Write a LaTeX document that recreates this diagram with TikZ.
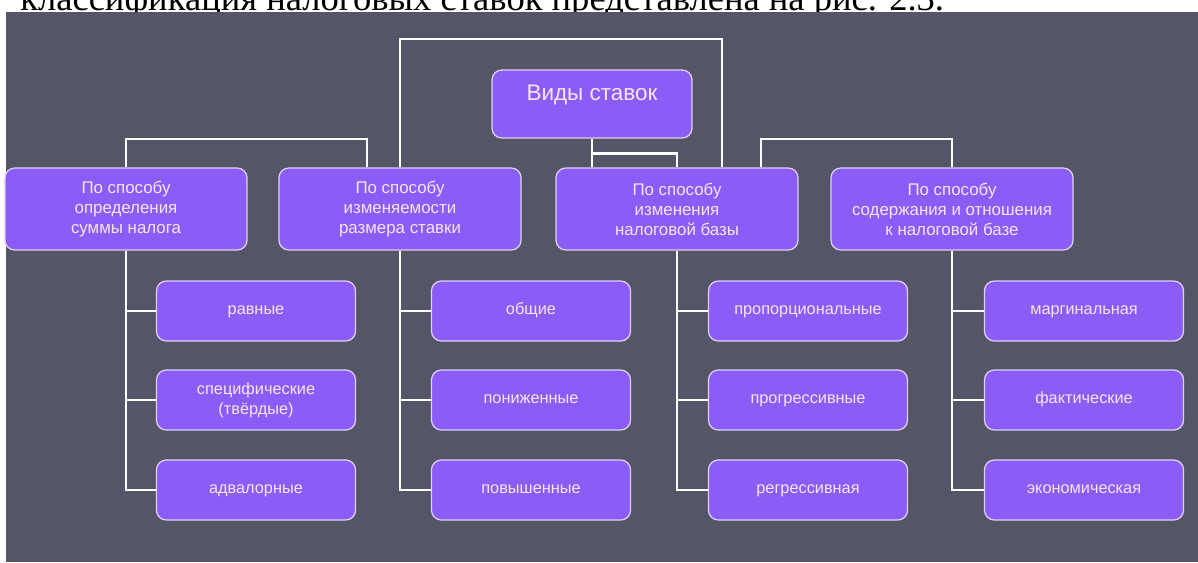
\documentclass[tikz,border=0pt]{standalone}
\usepackage{fontspec}
\setmainfont{Liberation Sans}
\newfontfamily\pageserif{Liberation Serif}
\usetikzlibrary{positioning}

\definecolor{slatebg}{RGB}{84,86,104}
\definecolor{violetbox}{RGB}{139,92,246}
\definecolor{lilacedge}{RGB}{222,208,246}
\definecolor{pinktext}{RGB}{244,230,246}

\tikzset{
  kind/.style={draw=lilacedge, line width=0.9pt, fill=violetbox, rounded corners=7pt,
    text=pinktext, align=center, inner sep=0pt},
  head/.style={kind, minimum width=5cm, text height=0.75cm, text depth=0.95cm,
    font=\fontsize{16}{19}\selectfont},
  group/.style={kind, minimum width=6.05cm, minimum height=2.05cm,
    font=\fontsize{12}{14.2}\selectfont},
  item/.style={kind, minimum width=4.975cm, minimum height=1.5cm,
    font=\fontsize{11.6}{14.2}\selectfont},
  word/.style={item, text height=1.25ex, text depth=0.35ex},
  link/.style={draw=white, line width=2pt}
}

\begin{document}
\begin{tikzpicture}[x=0.025cm, y=-0.025cm]
\useasboundingbox (0,0) rectangle (1198,562);
\clip (0,0) rectangle (1198,562);
% cut line of the page above the slide
\node[anchor=base west, inner sep=0pt, font=\pageserif\fontsize{26}{30}\selectfont] (pageline) at (20,10)
  {классификация налоговых ставок представлена на рис. 2.3.};
\fill[slatebg] (6,12) rectangle (1198,562);

% boxes
\node[head] (rates) at (592,104) {Виды ставок};

\node[group] (g1) at (126,209) {По способу\\определения\\суммы налога};
\node[group] (g2) at (400,209) {По способу\\изменяемости\\размера ставки};
\node[group] (g3) at (677,209) {По способу\\изменения\\налоговой базы};
\node[group] (g4) at (952,209) {По способу\\содержания и отношения\\к налоговой базе};

\node[word] (g1a) at (256,311) {равные};
\node[item] (g1b) at (256,400) {специфические\\(твёрдые)};
\node[word] (g1c) at (256,490) {адвалорные};

\node[word] (g2a) at (531,311) {общие};
\node[word] (g2b) at (531,400) {пониженные};
\node[word] (g2c) at (531,490) {повышенные};

\node[word] (g3a) at (808,311) {пропорциональные};
\node[word] (g3b) at (808,400) {прогрессивные};
\node[word] (g3c) at (808,490) {регрессивная};

\node[word] (g4a) at (1084,311) {маргинальная};
\node[word] (g4b) at (1084,400) {фактические};
\node[word] (g4c) at (1084,490) {экономическая};

% upper connectors
\coordinate (frameL) at (400,39);
\coordinate (frameR) at (722,39);
\coordinate (knotL) at (367,139);
\coordinate (knotR) at (761,139);
\draw[link] (rates.south) -- (rates.south |- g3.north);
\draw[link] (rates.south) ++(0,15) -| (g3.north);
\draw[link] (g2.north) -- (frameL) -- (frameR) -- (frameR |- g3.north);
\draw[link] (g1.north) |- (knotL) -- (knotL |- g2.north);
\draw[link] (knotR |- g3.north) -- (knotR) -| (g4.north);

% lower connectors
\foreach \g in {1,...,4}
  \foreach \r in {a,b,c}
    \draw[link] (g\g.south) |- (g\g\r.west);
\end{tikzpicture}
\end{document}
